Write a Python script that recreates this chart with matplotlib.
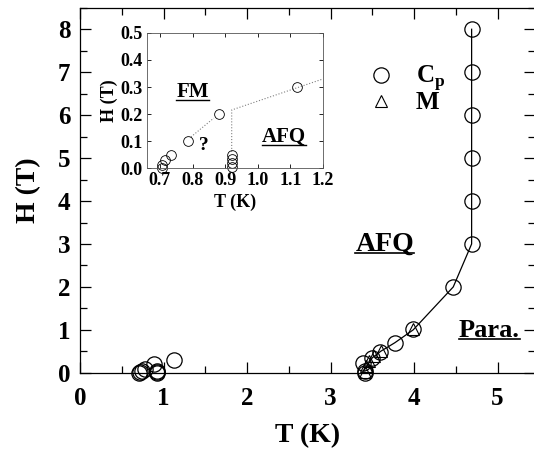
import numpy as np
import matplotlib
matplotlib.use('Agg')
import matplotlib.pyplot as plt
from matplotlib.ticker import MultipleLocator, FormatStrFormatter
from matplotlib.lines import Line2D

#######################################
#      data       #
#######################################

# C_p points (open circles), main panel
cp_T = [0.70, 0.72, 0.74, 0.78, 0.88, 0.92, 0.92, 0.92, 1.12,
        3.41, 3.41, 3.39, 3.50, 3.59, 3.77, 3.99, 4.47,
        4.69, 4.69, 4.69, 4.69, 4.69, 4.69]
cp_H = [0.00, 0.03, 0.05, 0.10, 0.20, 0.00, 0.03, 0.05, 0.30,
        0.00, 0.05, 0.23, 0.35, 0.49, 0.70, 1.03, 2.00,
        3.00, 4.00, 5.00, 6.00, 7.00, 8.00]

# M points (open triangles)
m_T = [3.41, 3.43, 3.46, 3.52, 3.60, 3.99]
m_H = [0.02, 0.15, 0.28, 0.38, 0.50, 1.02]

# AFQ / Para. phase boundary (guide line)
line_T = [3.40, 3.50, 3.60, 3.77, 3.99, 4.47, 4.69, 4.69]
line_H = [0.05, 0.35, 0.50, 0.70, 1.00, 2.00, 3.00, 8.00]

# inset points
ins_T = [0.705, 0.705, 0.715, 0.735, 0.785, 0.88,
         0.92, 0.92, 0.92, 0.92, 1.12]
ins_H = [0.00, 0.01, 0.03, 0.05, 0.10, 0.20,
         0.005, 0.02, 0.035, 0.05, 0.30]

# inset dotted boundaries
dot1_T = [0.795, 0.865]
dot1_H = [0.115, 0.185]
dot2_T = [0.92, 0.92, 1.2]
dot2_H = [0.06, 0.215, 0.33]

###############################
#     style                   #
###############################
plt.rcParams['font.family'] = ['Liberation Serif', 'DejaVu Serif']
plt.rcParams['font.weight'] = 'bold'
plt.rcParams['mathtext.fontset'] = 'custom'
plt.rcParams['mathtext.rm'] = 'Liberation Serif'
plt.rcParams['mathtext.bf'] = 'Liberation Serif:bold'

underlined = []

def utext(a, x, y, s, size):
    t = a.text(x, y, s, fontsize=size, fontweight='bold',
               ha='center', va='center')
    underlined.append(t)
    return t

fig = plt.figure(figsize=(5.34, 4.58), dpi=100)
ax = fig.add_axes([0.150, 0.186, 0.852, 0.797])

ax.plot(line_T, line_H, color='black', lw=0.9, zorder=1)
ax.plot(cp_T, cp_H, 'o', ms=11, mfc='none', mec='black', mew=0.9,
        clip_on=False, label=r'$\mathbf{C}_\mathrm{p}$', zorder=2)
ax.plot(m_T, m_H, '^', ms=8, mfc='none', mec='black', mew=0.8,
        clip_on=False, label='M', zorder=2)

ax.set_xlim(0, 5.45)
ax.set_ylim(0, 8.5)
ax.xaxis.set_major_locator(MultipleLocator(1))
ax.xaxis.set_minor_locator(MultipleLocator(0.5))
ax.yaxis.set_major_locator(MultipleLocator(1))
ax.yaxis.set_minor_locator(MultipleLocator(0.5))
ax.tick_params(which='both', direction='in', top=True, right=True,
               labelsize=18, width=0.9)
ax.tick_params(which='major', length=8, pad=7)
ax.tick_params(axis='x', which='major', pad=10)
ax.tick_params(which='minor', length=5)
for lab in ax.get_xticklabels() + ax.get_yticklabels():
    lab.set_fontweight('bold')
for s in ax.spines.values():
    s.set_linewidth(0.9)

ax.set_xlabel('T (K)', fontsize=20, fontweight='bold', labelpad=10)
ax.set_ylabel('H (T)', fontsize=20, fontweight='bold', labelpad=12)

utext(ax, 3.65, 3.0, 'AFQ', 20)
utext(ax, 4.90, 0.98, 'Para.', 19)

ax.legend(loc='upper left', bbox_to_anchor=(0.611, 0.874), frameon=False,
          fontsize=18, handletextpad=0.9, labelspacing=-0.08,
          handlelength=1.0, borderaxespad=0)

###############################
#     inset                   #
###############################
ins = fig.add_axes([0.275, 0.633, 0.330, 0.295])
ins.plot(dot1_T, dot1_H, ':', color='gray', lw=0.8)
ins.plot(dot2_T, dot2_H, ':', color='gray', lw=0.8)
ins.plot(ins_T, ins_H, 'o', ms=7, mfc='none', mec='black', mew=0.6,
         clip_on=False)
ins.set_xlim(0.66, 1.2)
ins.set_ylim(0, 0.5)
ins.xaxis.set_major_locator(MultipleLocator(0.1))
ins.yaxis.set_major_locator(MultipleLocator(0.1))
ins.xaxis.set_major_formatter(FormatStrFormatter('%.1f'))
ins.yaxis.set_major_formatter(FormatStrFormatter('%.1f'))
ins.tick_params(direction='in', top=True, right=True, labelsize=13,
                length=3, width=0.6, pad=3)
for lab in ins.get_xticklabels() + ins.get_yticklabels():
    lab.set_fontweight('bold')
for s in ins.spines.values():
    s.set_linewidth(0.6)
    s.set_color('#555555')
ins.set_xlabel('T (K)', fontsize=13, fontweight='bold', labelpad=3)
ins.set_ylabel('H (T)', fontsize=13, fontweight='bold', labelpad=2)

utext(ins, 0.80, 0.28, 'FM', 15)
ins.text(0.835, 0.085, '?', fontsize=14, fontweight='bold',
         ha='center', va='center')
utext(ins, 1.08, 0.115, 'AFQ', 15)

###### underline the phase labels ######
fig.canvas.draw()
r = fig.canvas.get_renderer()
for t in underlined:
    bb = t.get_window_extent(r)
    y = bb.y0 + 0.12 * bb.height
    p0 = fig.transFigure.inverted().transform((bb.x0, y))
    p1 = fig.transFigure.inverted().transform((bb.x1, y))
    fig.add_artist(Line2D([p0[0], p1[0]], [p0[1], p1[1]], color='black',
                          lw=1.2 if t.get_fontsize() > 16 else 1.0))

fig.savefig('out.png', dpi=100)
